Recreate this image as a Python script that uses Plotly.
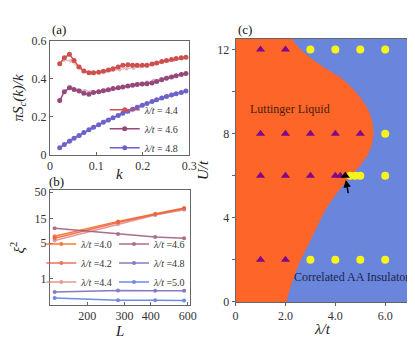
import plotly.graph_objects as go

# ---------------- data ----------------
# panel (a): pi*S_c(k)/k
k_fine = [0.021, 0.031, 0.042, 0.052, 0.063, 0.073, 0.084, 0.094, 0.105, 0.115, 0.126, 0.136,
          0.147, 0.157, 0.168, 0.178, 0.188, 0.199, 0.209, 0.220, 0.230, 0.241, 0.251, 0.262,
          0.272, 0.283, 0.293]
k_coarse = [0.030, 0.045, 0.060, 0.075, 0.090, 0.105, 0.120, 0.135, 0.150, 0.165, 0.180, 0.194,
            0.209, 0.224, 0.239, 0.254, 0.269, 0.284]
sc_44 = [0.480, 0.511, 0.529, 0.497, 0.462, 0.442, 0.433, 0.433, 0.435, 0.440, 0.447, 0.454,
         0.462, 0.472, 0.475, 0.472, 0.472, 0.472, 0.472, 0.479, 0.484, 0.492, 0.497, 0.502,
         0.507, 0.511, 0.514]
sc_46 = [0.286, 0.333, 0.353, 0.344, 0.336, 0.324, 0.319, 0.328, 0.333, 0.338, 0.343, 0.349,
         0.353, 0.358, 0.363, 0.366, 0.370, 0.373, 0.375, 0.378, 0.386, 0.395, 0.403, 0.410,
         0.417, 0.423, 0.428]
sc_48 = [0.038, 0.055, 0.072, 0.088, 0.103, 0.118, 0.132, 0.146, 0.159, 0.172, 0.184, 0.196,
         0.208, 0.219, 0.230, 0.241, 0.251, 0.261, 0.271, 0.281, 0.290, 0.299, 0.308, 0.315,
         0.322, 0.329, 0.336]
sc_44_b = [0.500, 0.495, 0.462, 0.440, 0.432, 0.435, 0.440, 0.446, 0.450, 0.453, 0.458, 0.465,
           0.470, 0.480, 0.488, 0.495, 0.501, 0.507]
sc_46_b = [0.330, 0.356, 0.342, 0.336, 0.333, 0.335, 0.341, 0.347, 0.355, 0.362, 0.368, 0.374,
           0.382, 0.392, 0.400, 0.408, 0.416, 0.424]
sc_48_b = [0.053, 0.077, 0.099, 0.120, 0.140, 0.159, 0.178, 0.195, 0.212, 0.227, 0.243, 0.256,
           0.271, 0.285, 0.299, 0.310, 0.320, 0.330]

# panel (b): xi^2 vs L
L_sizes = [140, 280, 420, 576]
xi2_40 = [6.8, 13.3, 18.7, 24.3]
xi2_42 = [6.2, 12.6, 18.2, 23.4]
xi2_44 = [5.6, 11.8, 17.8, 22.5]
xi2_46 = [9.8, 7.5, 6.6, 6.2]
xi2_48 = [0.55, 0.59, 0.58, 0.58]
xi2_50 = [0.42, 0.38, 0.38, 0.375]

# panel (c): phase diagram
bound_U = [0, 0.7, 1.34, 2.0, 2.86, 3.6, 4.4, 5.2, 5.9, 6.5, 7.0, 7.5, 8.05, 8.6, 9.1, 9.8,
           10.6, 11.0, 11.4, 12.0, 12.5]
bound_lam = [2.04, 2.2, 2.39, 2.62, 2.98, 3.28, 3.62, 4.08, 4.55, 5.0, 5.3, 5.47, 5.53, 5.47,
             5.33, 4.95, 4.28, 3.75, 3.23, 2.61, 2.25]
ll_lam = [1, 2, 1, 2, 3, 4, 5, 1, 2, 3, 4.0, 4.2, 1, 2]
ll_U = [12, 12, 8, 8, 8, 8, 8, 6, 6, 6, 6, 6, 2, 2]
ins_lam = [3, 4, 5, 6, 6, 4.6, 4.8, 5.0, 6, 3, 4, 5, 6]
ins_U = [12, 12, 12, 12, 8, 6, 6, 6, 6, 2, 2, 2, 2]
crit_lam = [4.4]
crit_U = [6]

SERIF = "Liberation Serif, DejaVu Serif, Times New Roman, serif"
AXC = "#666666"

fig = go.Figure()

# ---- panel (a)
for kk, yy, col in [(k_coarse, sc_44_b, "#CD5050"), (k_coarse, sc_46_b, "#96487A"),
                    (k_coarse, sc_48_b, "#6C62C9")]:
    fig.add_trace(go.Scatter(x=kk, y=yy, mode="lines+markers", opacity=0.4,
                             line=dict(color=col, width=1.2), marker=dict(size=4, color=col),
                             showlegend=False, xaxis="x", yaxis="y"))
for yy, col, nm in [(sc_44, "#CD5050", "4.4"), (sc_46, "#96487A", "4.6"), (sc_48, "#6C62C9", "4.8")]:
    fig.add_trace(go.Scatter(x=k_fine, y=yy, mode="lines+markers",
                             line=dict(color=col, width=1.5), marker=dict(size=5, color=col),
                             name="<i>λ/t</i> = " + nm, legend="legend", xaxis="x", yaxis="y"))

# ---- panel (b)
b_series = [(xi2_40, "#FF6A1F", "4.0", "legend2", 0.9), (xi2_42, "#EE5A3A", "4.2", "legend2", 0.85),
            (xi2_44, "#D9706A", "4.4", "legend2", 0.7), (xi2_46, "#A0607F", "4.6", "legend3", 0.9),
            (xi2_48, "#7464B8", "4.8", "legend3", 0.85), (xi2_50, "#5579E0", "5.0", "legend3", 0.85)]
for yy, col, nm, lg, op in b_series:
    fig.add_trace(go.Scatter(x=L_sizes, y=yy, mode="lines+markers", opacity=op,
                             line=dict(color=col, width=1.5), marker=dict(size=4, color=col),
                             name="<i>λ/t</i> =" + nm, legend=lg, xaxis="x2", yaxis="y2"))

# ---- panel (c)
fig.add_trace(go.Scatter(x=bound_lam, y=bound_U, mode="lines", fill="tozerox",
                         fillcolor="#FD6529", line=dict(color="#FD6529", width=0, shape="spline"),
                         showlegend=False, xaxis="x3", yaxis="y3"))
fig.add_trace(go.Scatter(x=ll_lam, y=ll_U, mode="markers",
                         marker=dict(symbol="triangle-up", size=8, color="#80068A"),
                         showlegend=False, xaxis="x3", yaxis="y3"))
fig.add_trace(go.Scatter(x=ins_lam, y=ins_U, mode="markers",
                         marker=dict(symbol="circle", size=8, color="#F8F41A"),
                         showlegend=False, xaxis="x3", yaxis="y3"))
fig.add_trace(go.Scatter(x=crit_lam, y=crit_U, mode="markers",
                         marker=dict(symbol="triangle-up", size=8, color="black"),
                         showlegend=False, xaxis="x3", yaxis="y3"))

fig.add_shape(type="rect", xref="x3 domain", yref="y3 domain", x0=0, x1=1, y0=0, y1=1,
              fillcolor="#6A85DC", line=dict(width=0), layer="below")

tickfont = dict(family=SERIF, size=12, color="#333")
titlefont = dict(family=SERIF, size=15, color="#222")


def ax(**kw):
    d = dict(showline=True, linecolor=AXC, linewidth=1, mirror=True, showgrid=False,
             zeroline=False, tickfont=tickfont, ticks="inside", ticklen=3, tickcolor=AXC)
    d.update(kw)
    return d


legfont = dict(family=SERIF, size=10, color="#333")
fig.update_layout(
    width=415, height=339, margin=dict(l=0, r=0, t=0, b=0),
    paper_bgcolor="white", plot_bgcolor="white",
    font=dict(family=SERIF),
    xaxis=ax(domain=[0.0964, 0.441], range=[0, 0.3], tickvals=[0, 0.1, 0.2, 0.3],
             ticktext=["0", "0.1", "0.2", "0.3"], anchor="y"),
    yaxis=ax(domain=[0.5693, 0.9204], range=[0, 0.6], tickvals=[0, 0.2, 0.4, 0.6],
             ticktext=["0", "0.2", "0.4", "0.6"], anchor="x",
             title=dict(text="<i>πS<sub>c</sub>(k)/k</i>", font=titlefont, standoff=4)),
    xaxis2=ax(domain=[0.0964, 0.4434], type="log", range=[2.124, 2.789],
              tickvals=[200, 300, 400, 600], ticktext=["200", "300", "400", "600"], anchor="y2"),
    yaxis2=ax(domain=[0.1083, 0.4602], type="log", range=[-0.51, 1.73],
              tickvals=[1, 5, 15, 50], ticktext=["1", "5", "15", "50"], anchor="x2",
              title=dict(text="<i>ξ</i><sup>2</sup>", font=titlefont, standoff=6)),
    xaxis3=ax(domain=[0.5559, 0.988], range=[0, 7], tickvals=[0, 2, 4, 6],
              ticktext=["0", "2.0", "4.0", "6.0"], anchor="y3", ticks="outside"),
    yaxis3=ax(domain=[0.1171, 0.9263], range=[0, 12.5], tickvals=[0, 4, 8, 12],
              ticktext=["0", "4", "8", "12"], anchor="x3", ticks="outside",
              minor=dict(tickvals=[2, 6, 10], ticks="outside", ticklen=3, tickcolor=AXC),
              title=dict(text="<i>U/t</i>", font=titlefont, standoff=4)),
    legend=dict(x=0.232, y=0.753, xanchor="left", yanchor="top", bgcolor="rgba(0,0,0,0)",
                font=legfont, itemwidth=30, tracegroupgap=0),
    legend2=dict(x=0.075, y=0.34, xanchor="left", yanchor="top", bgcolor="rgba(0,0,0,0)",
                 font=legfont, itemwidth=30),
    legend3=dict(x=0.255, y=0.34, xanchor="left", yanchor="top", bgcolor="rgba(0,0,0,0)",
                 font=legfont, itemwidth=30),
)

# x-axis titles
for txt, xp, yp in [("<i>k</i>", 111, 166), ("<i>L</i>", 111, 330), ("<i>λ/t</i>", 320, 328)]:
    fig.add_annotation(x=xp / 415, y=1 - yp / 339, xref="paper", yref="paper", text=txt,
                       showarrow=False, xanchor="center", yanchor="middle", font=titlefont)

fig.add_annotation(x=4.42, y=5.8, ax=4.53, ay=5.1, xref="x3", yref="y3", axref="x3", ayref="y3",
                   text="", showarrow=True, arrowhead=2, arrowsize=1, arrowwidth=1.5,
                   arrowcolor="black")
fig.add_annotation(x=2.18, y=9.18, xref="x3", yref="y3", text="Luttinger Liquid", showarrow=False,
                   font=dict(family=SERIF, size=12, color="#4a1e10"))
fig.add_annotation(x=4.65, y=1.19, xref="x3", yref="y3", text="Correlated AA Insulator",
                   showarrow=False, font=dict(family=SERIF, size=12, color="#20264a"))

for txt, xp, yp in [("(a)", 40, 15), ("(b)", 37, 174), ("(c)", 231, 15)]:
    fig.add_annotation(x=xp / 415, y=1 - yp / 339, xref="paper", yref="paper", text=txt,
                       showarrow=False, xanchor="left", yanchor="middle",
                       font=dict(family=SERIF, size=13, color="#111"))

fig.write_html("out.html")
